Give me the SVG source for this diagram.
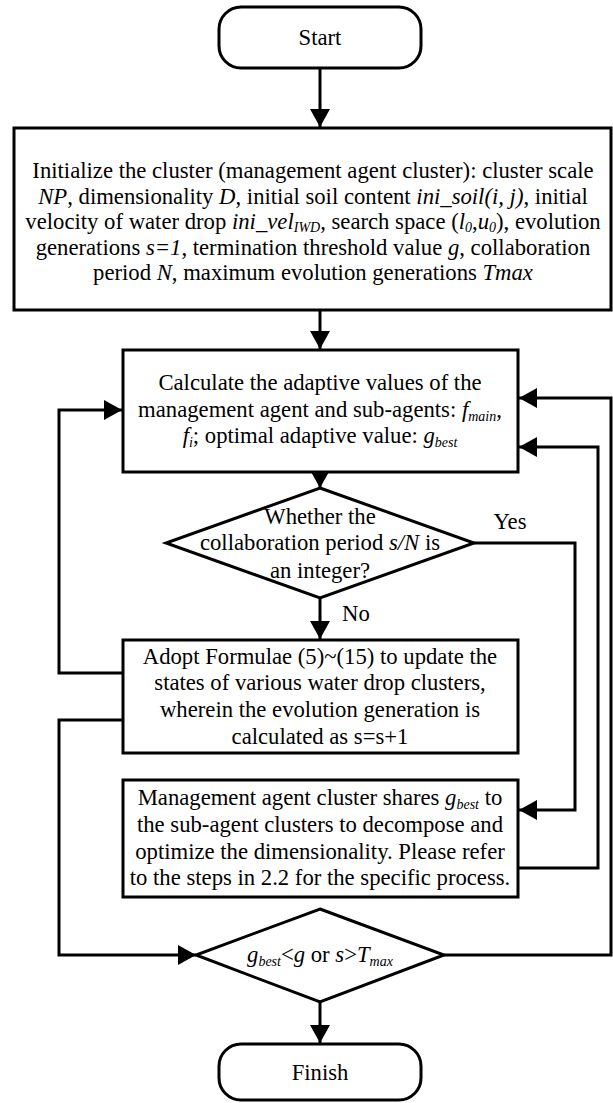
<svg xmlns="http://www.w3.org/2000/svg" width="613" height="1103" viewBox="0 0 613 1103">
<style>
.box{fill:#fff;stroke:#000;stroke-width:3}
.t{font-family:"Liberation Serif","Times New Roman",serif;font-size:22.7px;fill:#000;text-anchor:middle}
.i{font-style:italic}
.s{font-size:14px;font-style:italic}
.c{fill:none;stroke:#000;stroke-width:3;marker-end:url(#ah)}
</style>
<defs>
<marker id="ah" viewBox="0 0 18 20" markerWidth="18" markerHeight="20" refX="18" refY="10" orient="auto" markerUnits="userSpaceOnUse"><path d="M0,0 L18,10 L0,20 z" fill="#000"/></marker>
</defs>
<rect width="613" height="1103" fill="#fff"/>
<g id="connectors">
<path class="c" d="M320,68 V127"/>
<path class="c" d="M320,310 V349"/>
<path class="c" d="M320,472 V488"/>
<path class="c" d="M320,598 V639"/>
<path class="c" d="M474,543 H575 V810 H519"/>
<path class="c" d="M123,673 H59 V410 H122"/>
<path class="c" d="M123,720 H59 V955 H196"/>
<path class="c" d="M518,868 H598 V447 H519"/>
<path class="c" d="M444,955 H611 V398 H519"/>
<path class="c" d="M320,1002 V1043"/>
</g>
<g id="start">
<rect class="box" x="219" y="7" width="202" height="61" rx="22"/>
<text class="t" x="320" y="45">Start</text>
</g>
<g id="init">
<rect class="box" x="14" y="128" width="597" height="182"/>
<text class="t" x="313" y="178">Initialize the cluster (management agent cluster): cluster scale</text>
<text class="t" x="313" y="203.5"><tspan class="i">NP</tspan>, dimensionality <tspan class="i">D</tspan>, initial soil content <tspan class="i">ini_soil(i, j)</tspan>, initial</text>
<text class="t" x="313" y="229">velocity of water drop <tspan class="i">ini_vel</tspan><tspan class="s" dy="3">IWD</tspan><tspan dy="-3">, search space (</tspan><tspan class="i">l</tspan><tspan class="s" dy="3">0</tspan><tspan dy="-3">,</tspan><tspan class="i">u</tspan><tspan class="s" dy="3">0</tspan><tspan dy="-3">), evolution</tspan></text>
<text class="t" x="313" y="254.5">generations <tspan class="i">s=1</tspan>, termination threshold value <tspan class="i">g</tspan>, collaboration</text>
<text class="t" x="313" y="280">period <tspan class="i">N</tspan>, maximum evolution generations <tspan class="i">Tmax</tspan></text>
</g>
<g id="calc">
<rect class="box" x="123" y="350" width="395" height="122"/>
<text class="t" x="320" y="390">Calculate the adaptive values of the</text>
<text class="t" x="320" y="417">management agent and sub-agents: <tspan class="i">f</tspan><tspan class="s" dy="4">main</tspan><tspan dy="-4">,</tspan></text>
<text class="t" x="320" y="443"><tspan class="i">f</tspan><tspan class="s" dy="4">i</tspan><tspan dy="-4">; optimal adaptive value: </tspan><tspan class="i">g</tspan><tspan class="s" dy="4">best</tspan></text>
</g>
<g id="decision1">
<polygon class="box" points="320,488 474,543 320,598 166,543"/>
<text class="t" x="320" y="524">Whether the</text>
<text class="t" x="320" y="550">collaboration period <tspan class="i">s/N</tspan> is</text>
<text class="t" x="320" y="578">an integer?</text>
<text class="t" x="510" y="529">Yes</text>
<text class="t" x="342" y="621" style="text-anchor:start">No</text>
</g>
<g id="update">
<rect class="box" x="123" y="640" width="395" height="113"/>
<text class="t" x="320" y="664">Adopt Formulae (5)~(15) to update the</text>
<text class="t" x="320" y="690">states of various water drop clusters,</text>
<text class="t" x="320" y="717">wherein the evolution generation is</text>
<text class="t" x="320" y="744">calculated as s=s+1</text>
</g>
<g id="share">
<rect class="box" x="123" y="780" width="395" height="117"/>
<text class="t" x="320" y="805">Management agent cluster shares <tspan class="i">g</tspan><tspan class="s" dy="4">best</tspan><tspan dy="-4"> to</tspan></text>
<text class="t" x="320" y="832">the sub-agent clusters to decompose and</text>
<text class="t" x="320" y="859">optimize the dimensionality. Please refer</text>
<text class="t" x="320" y="885">to the steps in 2.2 for the specific process.</text>
</g>
<g id="decision2">
<polygon class="box" points="320,909 444,955 320,1002 196,955"/>
<text class="t" x="320" y="962"><tspan class="i">g</tspan><tspan class="s" dy="4">best</tspan><tspan dy="-4">&lt;</tspan><tspan class="i">g</tspan> or <tspan class="i">s</tspan>&gt;<tspan class="i">T</tspan><tspan class="s" dy="4">max</tspan></text>
</g>
<g id="finish">
<rect class="box" x="219" y="1044" width="202" height="56" rx="22"/>
<text class="t" x="320" y="1080">Finish</text>
</g>
</svg>
